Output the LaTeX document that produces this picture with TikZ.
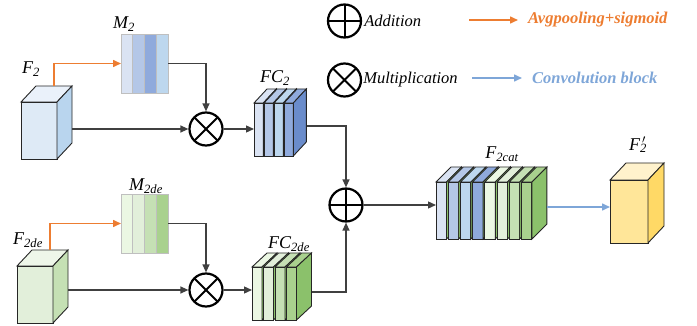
\documentclass[tikz,border=0pt]{standalone}
\usepackage{fontspec}
\setmainfont{Liberation Serif}
\usetikzlibrary{arrows.meta,positioning}

\definecolor{blueA}{HTML}{DAE3F3}
\definecolor{blueB}{HTML}{B4C7E7}
\definecolor{blueC}{HTML}{BDD7EE}
\definecolor{blueD}{HTML}{8FAADC}
\definecolor{blueside}{HTML}{6A8CCB}
\definecolor{greenA}{HTML}{EBF7E3}
\definecolor{greenB}{HTML}{E2EFDA}
\definecolor{greenC}{HTML}{C5E0B4}
\definecolor{greenD}{HTML}{A9D18E}
\definecolor{greenside}{HTML}{8BC16B}
\definecolor{fbfront}{HTML}{DEEAF6}
\definecolor{fbside}{HTML}{B9D5EE}
\definecolor{fbtop}{HTML}{EAF1FA}
\definecolor{fgfront}{HTML}{E2EFDA}
\definecolor{fgside}{HTML}{C5E0B4}
\definecolor{fgtop}{HTML}{EEF6E9}
\definecolor{fyfront}{HTML}{FFE699}
\definecolor{fyside}{HTML}{FFD966}
\definecolor{fytop}{HTML}{FFF2CC}
\definecolor{avgorange}{HTML}{ED7D31}
\definecolor{convblue}{HTML}{7EA6D8}

\begin{document}
\begin{tikzpicture}[x=1pt,y=-1pt,>={Triangle[length=8pt,width=7pt]},
  face/.style={draw=black!85,line width=0.9pt,outer sep=0pt,inner sep=0pt},
  conn/.style={draw=black!75,line width=1.3pt},
  orng/.style={draw=avgorange,line width=1.5pt},
  convarr/.style={draw=convblue,line width=1.5pt},
  opcirc/.style={circle,draw,line width=2.2pt,minimum size=33pt,inner sep=0pt},
  addop/.style={opcirc,path picture={\draw[line width=2pt]
      (path picture bounding box.north) -- (path picture bounding box.south)
      (path picture bounding box.west) -- (path picture bounding box.east);}},
  mulop/.style={opcirc,path picture={\draw[line width=2pt]
      (path picture bounding box.north west) -- (path picture bounding box.south east)
      (path picture bounding box.north east) -- (path picture bounding box.south west);}},
  mapbox/.style={draw=gray!50,line width=0.8pt,inner sep=0pt,outer sep=0pt,minimum width=47pt,minimum height=59pt},
  stripe/.style={draw=gray!50,line width=0.8pt,inner sep=0pt,outer sep=0pt,minimum width=11.75pt,minimum height=59pt,anchor=north west},
  lab/.style={font=\fontsize{18}{21}\selectfont\itshape,inner sep=0pt},
  legend/.style={font=\fontsize{16.5}{19}\selectfont\itshape,inner sep=0pt,anchor=west}]
\useasboundingbox (0,0) rectangle (697,326);

% legend
\node[addop] (lg-add) at (344.5,21) {};
\node[legend, right=2pt of lg-add] (lg-add-txt) {Addition};
\node[mulop] (lg-mul) at (344.5,80) {};
\node[legend, right=1pt of lg-mul] (lg-mul-txt) {Multiplication};
\coordinate (lg-o) at (469,20);
\node[legend, text=avgorange, font=\fontsize{16.5}{19}\selectfont\bfseries\itshape] (lg-avg) at (528,20) {Avgpooling+sigmoid};
\draw[orng,->] (lg-o) -- ([xshift=-10pt]lg-avg.west);
\coordinate (lg-c) at (472,78);
\node[legend, text=convblue, font=\fontsize{16.5}{19}\selectfont\bfseries\itshape] (lg-conv) at (532,78) {Convolution block};
\draw[convarr,->] (lg-c) -- ([xshift=-10pt]lg-conv.west);

% F2 branch
\node[face, fill=fbfront, minimum width=36, minimum height=57] (f2) at (39,130.5) {};
\draw[face, fill=fbtop] (f2.north west) -- ++(15,-16) -- ++(36,0) -- (f2.north east) -- cycle;
\draw[face, fill=fbside] (f2.north east) -- ++(15,-16) -- ++(0,57) -- (f2.south east) -- cycle;
\node[lab] (f2-lab) at (31,69) {F\textsubscript{2}};
\coordinate (f2-top) at (54,86);
\coordinate (f2-out) at (72,129);

\node[mapbox] (m2) at (144.5,63.5) {};
\foreach \c [count=\i] in {blueA,blueB,blueD,blueC}
  \node[stripe, fill=\c] (m2-\i) at ([xshift={(\i-1)*11.75}]m2.north west) {};
\node[lab] (m2-lab) at (124,24) {M\textsubscript{2}};

\node[mulop] (ot1) at (206,129) {};

\foreach \c [count=\i] in {blueA,blueB,blueC,blueD} {
  \node[face, fill=\c, minimum width=9.3, minimum height=53] (fc2-\i) at ({258.65+(\i-1)*10},129.5) {};
  \draw[face, fill=\c] (fc2-\i.north west) -- ++(13,-14) -- ++(9.3,0) -- (fc2-\i.north east) -- cycle;
  \draw[face, fill=blueside] (fc2-\i.north east) -- ++(13,-14) -- ++(0,53) -- (fc2-\i.south east) -- cycle;
}
\node[lab] (fc2-lab) at (275,78) {FC\textsubscript{2}};
\coordinate (fc2-out) at (307,126);

% F2de branch
\node[face, fill=fgfront, minimum width=36, minimum height=57] (f2de) at (35,294.5) {};
\draw[face, fill=fgtop] (f2de.north west) -- ++(15,-16) -- ++(36,0) -- (f2de.north east) -- cycle;
\draw[face, fill=fgside] (f2de.north east) -- ++(15,-16) -- ++(0,57) -- (f2de.south east) -- cycle;
\node[lab] (f2de-lab) at (28,240) {F\textsubscript{2de}};
\coordinate (f2de-top) at (50,250);
\coordinate (f2de-out) at (68,290);

\node[mapbox] (m2de) at (144.5,223.5) {};
\foreach \c [count=\i] in {greenA,greenB,greenC,greenD}
  \node[stripe, fill=\c] (m2de-\i) at ([xshift={(\i-1)*11.75}]m2de.north west) {};
\node[lab] (m2de-lab) at (146,186) {M\textsubscript{2de}};

\node[mulop] (ot2) at (206,290) {};

\foreach \c [count=\i] in {greenA,greenB,greenC,greenD} {
  \node[face, fill=\c, minimum width=10, minimum height=53] (fc2de-\i) at ({257+(\i-1)*11.5},293.5) {};
  \draw[face, fill=\c] (fc2de-\i.north west) -- ++(15,-14) -- ++(10,0) -- (fc2de-\i.north east) -- cycle;
  \draw[face, fill=greenside] (fc2de-\i.north east) -- ++(15,-14) -- ++(0,53) -- (fc2de-\i.south east) -- cycle;
}
\node[lab] (fc2de-lab) at (289,244) {FC\textsubscript{2de}};
\coordinate (fc2de-out) at (312,292);

% fusion
\node[addop] (op) at (346,205) {};

\foreach \c [count=\i] in {blueA,blueB,blueC,blueD,greenA,greenB,greenC,greenD} {
  \node[face, fill=\c, minimum width=10.5, minimum height=57] (cat-\i) at ({441.25+(\i-1)*12.2},210.5) {};
  \draw[face, fill=\c] (cat-\i.north west) -- ++(15,-15) -- ++(10.5,0) -- (cat-\i.north east) -- cycle;
  \draw[face, fill=greenside] (cat-\i.north east) -- ++(15,-15) -- ++(0,57) -- (cat-\i.south east) -- cycle;
}
\node[lab] (cat-lab) at (502,154) {F\textsubscript{2cat}};
\coordinate (cat-out) at (547,207);

\node[face, fill=fyfront, minimum width=38, minimum height=63] (fp) at (629,211.5) {};
\draw[face, fill=fytop] (fp.north west) -- ++(16,-17) -- ++(38,0) -- (fp.north east) -- cycle;
\draw[face, fill=fyside] (fp.north east) -- ++(16,-17) -- ++(0,63) -- (fp.south east) -- cycle;
\node[lab] (fp-lab) at (638,145) {F\rlap{\textsuperscript{\,$\prime$}}\textsubscript{2}};

% connectors
\draw[orng,->] (f2-top) |- (m2.west);
\draw[conn,->] (m2.east) -| (ot1.north);
\draw[conn,->] (f2-out) -- (ot1);
\draw[conn,->] (ot1.east) -- (ot1.east -| fc2-1.west);
\draw[conn,->] (fc2-out) -| (op.north);

\draw[orng,->] (f2de-top) |- (m2de.west);
\draw[conn,->] (m2de.east) -| (ot2.north);
\draw[conn,->] (f2de-out) -- (ot2);
\draw[conn,->] (ot2.east) -- (ot2.east -| fc2de-1.west);
\draw[conn,->] (fc2de-out) -| (op.south);

\draw[conn,->] (op.east) -- (op.east -| cat-1.west);
\draw[convarr,->] (cat-out) -- (cat-out -| fp.west);
\end{tikzpicture}
\end{document}
